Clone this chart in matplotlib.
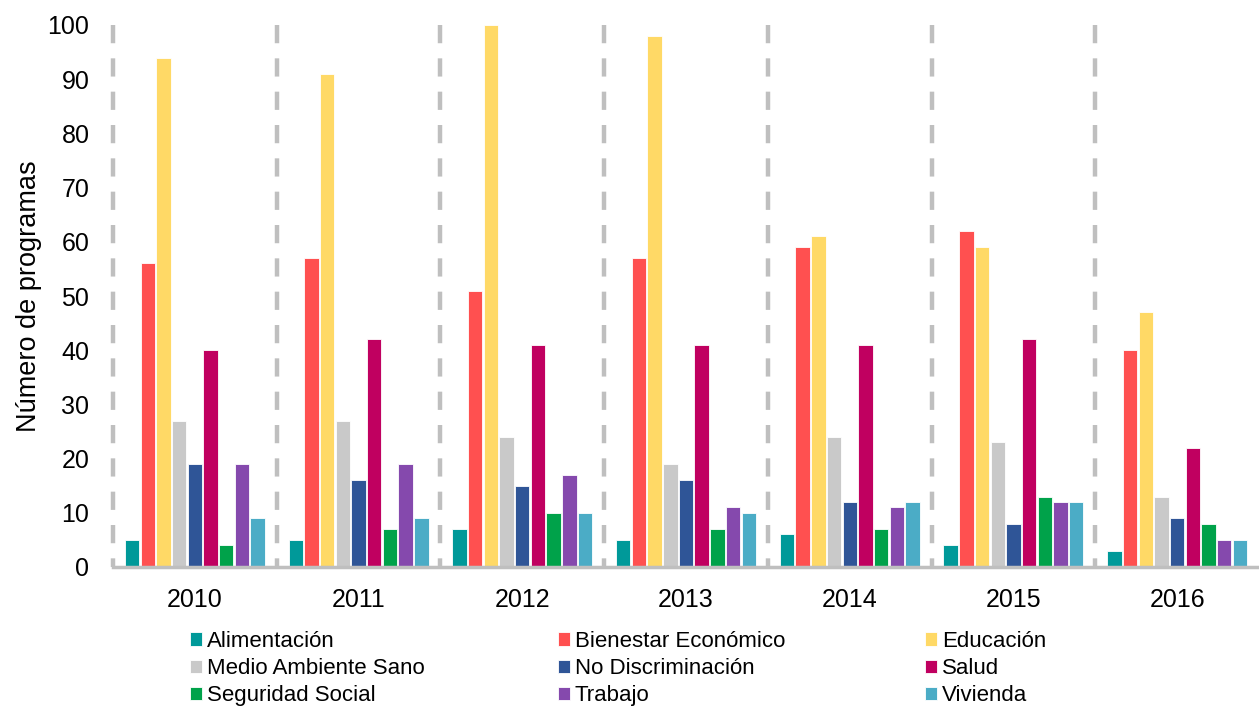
import matplotlib.pyplot as plt
import numpy as np

plt.rcParams['font.family'] = ['Liberation Sans', 'DejaVu Sans']

years = ['2010', '2011', '2012', '2013', '2014', '2015', '2016']

categories = [
    'Alimentación', 'Bienestar Económico', 'Educación',
    'Medio Ambiente Sano', 'No Discriminación', 'Salud',
    'Seguridad Social', 'Trabajo', 'Vivienda',
]

alimentacion = [5, 5, 7, 5, 6, 4, 3]
bienestar = [56, 57, 51, 57, 59, 62, 40]
educacion = [94, 91, 100, 98, 61, 59, 47]
medio_ambiente = [27, 27, 24, 19, 24, 23, 13]
no_discriminacion = [19, 16, 15, 16, 12, 8, 9]
salud = [40, 42, 41, 41, 41, 42, 22]
seguridad_social = [4, 7, 10, 7, 7, 13, 8]
trabajo = [19, 19, 17, 11, 11, 12, 5]
vivienda = [9, 9, 10, 10, 12, 12, 5]

series = [alimentacion, bienestar, educacion, medio_ambiente, no_discriminacion,
          salud, seguridad_social, trabajo, vivienda]

colors = ['#009999', '#FF5050', '#FFD966', '#C9C9C9', '#2F5597',
          '#C00060', '#00A24A', '#8549AD', '#4BACC6']

fig = plt.figure(figsize=(12.59, 7.07), dpi=100)
ax = fig.add_axes([113 / 1259, 1 - 567 / 707, 1146 / 1259, 542 / 707])

x = np.arange(len(years))
slot = 0.0959
handles = []
for i, (vals, c) in enumerate(zip(series, colors)):
    b = ax.bar(x + (i - 4) * slot, vals, width=0.088, color=c,
               edgecolor='white', linewidth=0.6, zorder=2)
    handles.append(b)

# dashed separators between years
ax.vlines(np.arange(len(years)) - 0.5, 100, 0, colors='#BFBFBF',
          linewidth=3.2, linestyles=(0, (4.1, 3.4)), zorder=1, clip_on=False)

ax.set_xlim(-0.5, 6.5)
ax.set_ylim(0, 100)
ax.set_yticks(range(0, 101, 10))
ax.set_xticks(x)
ax.set_xticklabels(years)
ax.tick_params(axis='y', length=0, pad=17, labelsize=18)
ax.tick_params(axis='x', length=0, pad=15, labelsize=18)

for s in ['top', 'right', 'left']:
    ax.spines[s].set_visible(False)
ax.spines['bottom'].set_color('#BFBFBF')
ax.spines['bottom'].set_linewidth(2.5)
ax.spines['bottom'].set_zorder(3)

ax.set_ylabel('Número de programas', fontsize=19.5)
ax.yaxis.set_label_coords(-0.062, 0.5)

# legend in three columns, filled row by row
col_x = [190, 558, 925]
for k in range(3):
    idx = [k, k + 3, k + 6]
    fig.legend([handles[j] for j in idx], [categories[j] for j in idx],
               loc='upper left', bbox_to_anchor=(col_x[k] / 1259, 1 - 631 / 707),
               frameon=False, fontsize=16, borderpad=0, borderaxespad=0,
               handlelength=0.55, handleheight=0.55, handletextpad=0.2,
               labelspacing=0.28)

fig.savefig('out.png', dpi=100)
